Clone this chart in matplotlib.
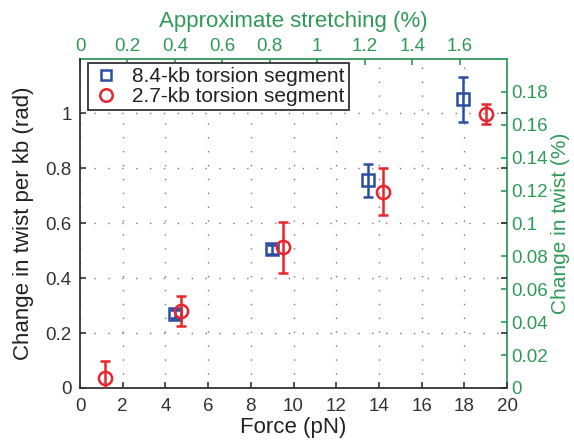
import numpy as np
import matplotlib
matplotlib.use('Agg')
import matplotlib.pyplot as plt

# ---- data ----
force_84 = [4.45, 8.98, 13.5, 17.95]
twist_84 = [0.270, 0.504, 0.756, 1.050]
err_84 = [0.015, 0.015, 0.060, 0.083]

force_27 = [1.17, 4.73, 9.52, 14.18, 19.0]
twist_27 = [0.035, 0.279, 0.512, 0.714, 0.997]
err_27 = [0.062, 0.055, 0.092, 0.085, 0.037]

xticks = [0, 2, 4, 6, 8, 10, 12, 14, 16, 18, 20]
yticks = [0, 0.2, 0.4, 0.6, 0.8, 1.0]
top_ticks = [0, 0.2, 0.4, 0.6, 0.8, 1.0, 1.2, 1.4, 1.6]
right_ticks = [0, 0.02, 0.04, 0.06, 0.08, 0.1, 0.12, 0.14, 0.16, 0.18]

# conversions
RAD_TO_PCT = 100 * 10.5 / (2 * np.pi * 1000)   # rad per kb -> % twist
F_TO_STRETCH = 0.09                              # pN -> approx stretching %

BLUE = '#2b4ea2'
RED = '#e8252c'
GREEN = '#2f9a58'
DARK = '#333333'

plt.rcParams['font.family'] = ['Liberation Sans', 'DejaVu Sans']
TICK_FS = 13.5
LABEL_FS = 16

fig = plt.figure(figsize=(5.74, 4.42), dpi=100)
ax = fig.add_axes([0.1394, 0.1222, 0.7439, 0.7443])

ax.errorbar(force_84, twist_84, yerr=err_84, fmt='s', ms=8, mfc='none',
            mec=BLUE, mew=1.8, ecolor=BLUE, elinewidth=1.8, capsize=3.5,
            capthick=1.8, zorder=3)
ax.errorbar(force_27, twist_27, yerr=err_27, fmt='o', ms=9.5, mfc='none',
            mec=RED, mew=1.8, ecolor=RED, elinewidth=1.8, capsize=3.5,
            capthick=1.8, zorder=4)

ax.set_xlim(0, 20)
ax.set_ylim(0, 0.2 / RAD_TO_PCT)
ax.set_xticks(xticks)
ax.set_xticklabels([str(t) for t in xticks])
ax.set_yticks(yticks)
ax.set_yticklabels(['0', '0.2', '0.4', '0.6', '0.8', '1'])
ax.grid(True, color='#777777', linestyle=(0, (1, 9)), linewidth=1.0)
ax.tick_params(direction='in', colors=DARK, labelsize=TICK_FS, length=4,
               width=1.2, right=True)
ax.tick_params(axis='x', pad=7)
ax.tick_params(axis='y', pad=6)
for s in ['left', 'bottom']:
    ax.spines[s].set_color(DARK)
    ax.spines[s].set_linewidth(1.3)
ax.spines['top'].set_visible(False)
ax.spines['right'].set_visible(False)

ax.set_xlabel('Force (pN)', color='#222222', fontsize=LABEL_FS, labelpad=2)
ax.set_ylabel('Change in twist per kb (rad)', color='#222222',
              fontsize=LABEL_FS, labelpad=8)

# top axis: approximate stretching
topx = ax.secondary_xaxis('top', functions=(lambda x: x * F_TO_STRETCH,
                                            lambda x: x / F_TO_STRETCH))
topx.set_xticks(top_ticks)
topx.set_xticklabels(['0', '0.2', '0.4', '0.6', '0.8', '1', '1.2', '1.4', '1.6'])
topx.tick_params(direction='in', colors=GREEN, labelsize=TICK_FS, length=4,
                 width=1.2, pad=3)
topx.spines['top'].set_color(GREEN)
topx.spines['top'].set_linewidth(1.3)
topx.set_xlabel('Approximate stretching (%)', color=GREEN, fontsize=LABEL_FS,
                labelpad=8)

# right axis: change in twist (%)
righty = ax.secondary_yaxis('right', functions=(lambda y: y * RAD_TO_PCT,
                                                lambda y: y / RAD_TO_PCT))
righty.set_yticks(right_ticks)
righty.set_yticklabels(['0', '0.02', '0.04', '0.06', '0.08', '0.1', '0.12',
                        '0.14', '0.16', '0.18'])
righty.tick_params(direction='in', colors=GREEN, labelsize=TICK_FS, length=4,
                   width=1.2, pad=3)
righty.spines['right'].set_color(GREEN)
righty.spines['right'].set_linewidth(1.3)
righty.set_ylabel('Change in twist (%)', color=GREEN, fontsize=15,
                  labelpad=2)

# legend with markers only
h1, = ax.plot([], [], 's', ms=7, mfc='none', mec=BLUE, mew=1.8)
h2, = ax.plot([], [], 'o', ms=9, mfc='none', mec=RED, mew=1.8)
leg = ax.legend([h1, h2], ['8.4-kb torsion segment', '2.7-kb torsion segment'],
                loc='upper left', bbox_to_anchor=(0.019, 0.988), fontsize=15,
                frameon=True, fancybox=False, framealpha=1, handlelength=1.3,
                handletextpad=0.6, borderpad=0.2, labelspacing=0.05,
                borderaxespad=0)
leg.get_frame().set_edgecolor(DARK)
leg.get_frame().set_linewidth(1.3)
for t in leg.get_texts():
    t.set_color('#222222')

fig.savefig('out.png', dpi=100)
